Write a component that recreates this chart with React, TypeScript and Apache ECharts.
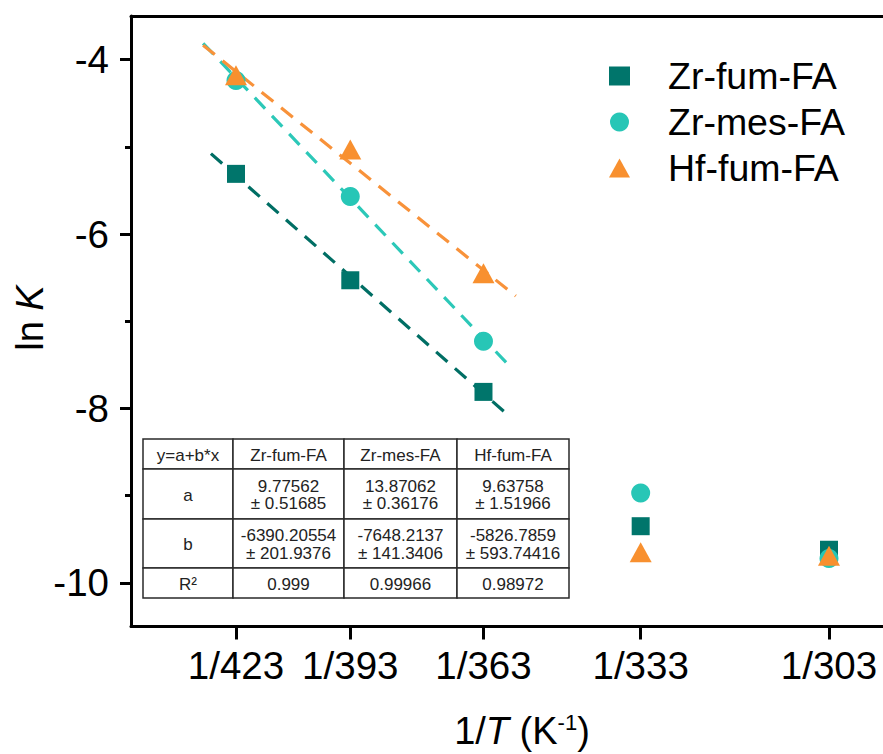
import { useEffect, useRef } from "react";
import * as echarts from "echarts";

// Measurement temperatures (K); the x axis is 1/T
const temperatures = [423, 393, 363, 333, 303];

// ln K values per material, in the same order as temperatures
const zrFum = [-5.31, -6.53, -7.81, -9.35, -9.62];
const zrMes = [-4.24, -5.57, -7.23, -8.97, -9.72];
const hfFum = [-4.18, -5.03, -6.45, -9.65, -9.69];

const seriesNames = ["Zr-fum-FA", "Zr-mes-FA", "Hf-fum-FA"];

// Linear fit ln K = a + b * (1/T)
const fitA = [9.77562, 13.87062, 9.63758];
const fitAErr = [0.51685, 0.36176, 1.51966];
const fitB = [-6390.20554, -7648.2137, -5826.7859];
const fitBErr = [201.9376, 141.3406, 593.74416];
const fitR2 = ["0.999", "0.99966", "0.98972"];

// Temperature span (K) covered by each dashed fit line
const fitTFrom = [430.2, 432.5, 432.5];
const fitTTo = [358.0, 358.0, 356.4];

const yTicks = [-10, -8, -6, -4];
const yMinorTicks = [-9, -7, -5];

const FONT = "'Liberation Sans', Arial, Helvetica, sans-serif";
const markerColors = ["#00756B", "#27C6B6", "#F8902F"];
const lineColors = ["#006E64", "#2CC8B8", "#F8923A"];
const symbols = ["rect", "circle", "triangle"];
const symbolSizes: any[] = [18, 19, [22, 20]];

function buildTable() {
  const colX = [143, 233, 344, 457, 569];
  const rowY = [439, 469, 519, 568, 598];
  const rows: string[][] = [
    ["y=a+b*x", ...seriesNames],
    ["a", ...fitA.map((a, i) => `${a}\n± ${fitAErr[i]}`)],
    ["b", ...fitB.map((b, i) => `${b}\n± ${fitBErr[i]}`)],
    ["R²", ...fitR2],
  ];
  const children: any[] = [];
  rows.forEach((row, r) => {
    row.forEach((cell, c) => {
      const x = colX[c];
      const y = rowY[r];
      const w = colX[c + 1] - x;
      const h = rowY[r + 1] - y;
      children.push({
        type: "rect",
        shape: { x, y, width: w, height: h },
        style: { fill: "#fff", stroke: "#2a2a2a", lineWidth: 1.5 },
        z: 10,
      });
      children.push({
        type: "text",
        x: x + w / 2,
        y: y + h / 2 + 1,
        style: {
          text: cell,
          align: "center",
          verticalAlign: "middle",
          fontSize: 17,
          lineHeight: 17.5,
          fontFamily: FONT,
          fill: "#222",
        },
        z: 11,
      });
    });
  });
  return { type: "group", children };
}

export default function App() {
  const ref = useRef<HTMLDivElement>(null);

  useEffect(() => {
    if (!ref.current) return;
    const chart = echarts.init(ref.current, null, { renderer: "svg" });
    const xMin = 0.0021983;
    const xMax = 0.0033856;
    const invT = temperatures.map((t) => 1 / t);
    const values = [zrFum, zrMes, hfFum];

    const scatterSeries = values.map((vals, i) => ({
      name: seriesNames[i],
      type: "scatter",
      data: vals.map((v, k) => [invT[k], v]),
      symbol: symbols[i],
      symbolSize: symbolSizes[i],
      itemStyle: { color: markerColors[i], opacity: 1 },
      z: 5 + i,
    }));

    const fitSeries = fitA.map((a, i) => {
      const x0 = 1 / fitTFrom[i];
      const x1 = 1 / fitTTo[i];
      return {
        name: `${seriesNames[i]} fit`,
        type: "line",
        data: [
          [x0, a + fitB[i] * x0],
          [x1, a + fitB[i] * x1],
        ],
        showSymbol: false,
        silent: true,
        lineStyle: { color: lineColors[i], width: 3.2, type: [15, 10] },
        z: 2,
      };
    });

    const axisLine = { show: true, lineStyle: { color: "#000", width: 3 } };

    // y-axis title, rotated to read bottom-to-top
    const yTitle = {
      type: "text",
      x: 30,
      y: 318,
      rotation: Math.PI / 2,
      style: {
        text: "ln {it|K}",
        align: "center",
        verticalAlign: "middle",
        fontSize: 38,
        fontFamily: FONT,
        fill: "#000",
        rich: {
          it: { fontStyle: "italic", fontSize: 38, fontFamily: FONT, fill: "#000" },
        },
      },
    };

    chart.setOption({
      animation: false,
      backgroundColor: "#fff",
      textStyle: { fontFamily: FONT },
      grid: { left: 131, right: 0, top: 16, bottom: 127.5, containLabel: false, outerBoundsMode: "none" },
      legend: {
        orient: "vertical",
        left: 604,
        top: 52,
        itemWidth: 21,
        itemHeight: 19,
        itemGap: 8,
        data: seriesNames.map((n, i) => ({ name: n, icon: symbols[i] })),
        textStyle: { fontSize: 37.5, color: "#000", fontFamily: FONT, padding: [0, 0, 0, 33] },
      },
      xAxis: [
        {
          type: "value",
          min: xMin,
          max: xMax,
          position: "bottom",
          axisLine,
          axisTick: { show: true, customValues: invT, length: 13, lineStyle: { width: 3, color: "#000" } },
          axisLabel: {
            customValues: invT,
            formatter: (v: number) => `1/${Math.round(1 / v)}`,
            fontSize: 38.5,
            color: "#000",
            fontFamily: FONT,
            margin: 19,
          },
          splitLine: { show: false },
          name: "1/{it|T} (K{sup|-1})",
          nameLocation: "middle",
          nameGap: 85,
          nameTextStyle: {
            fontSize: 38,
            color: "#000",
            fontFamily: FONT,
            padding: [0, 0, 0, 30],
            rich: {
              it: { fontStyle: "italic", fontSize: 38, fontFamily: FONT, color: "#000" },
              sup: { fontSize: 22, verticalAlign: "top", fontFamily: FONT, color: "#000" },
            },
          },
        },
        {
          type: "value",
          min: xMin,
          max: xMax,
          position: "top",
          axisLine,
          axisTick: { show: false },
          axisLabel: { show: false },
          splitLine: { show: false },
        },
      ],
      yAxis: [
        {
          type: "value",
          min: -10.5,
          max: -3.5,
          position: "left",
          axisLine,
          axisTick: { show: true, customValues: yTicks, length: 11, lineStyle: { width: 3, color: "#000" } },
          axisLabel: {
            customValues: yTicks,
            fontSize: 38.5,
            color: "#000",
            fontFamily: FONT,
            margin: 22,
          },
          splitLine: { show: false },
        },
        {
          type: "value",
          min: -10.5,
          max: -3.5,
          position: "left",
          axisLine: { show: false },
          axisTick: { show: true, customValues: yMinorTicks, length: 6, lineStyle: { width: 3, color: "#000" } },
          axisLabel: { show: false },
          splitLine: { show: false },
        },
      ],
      graphic: [yTitle, buildTable()],
      series: [...fitSeries, ...scatterSeries],
    });
    return () => chart.dispose();
  }, []);

  return (
    <div
      ref={ref}
      style={{ position: "absolute", left: 0, top: 0, width: 883, height: 754, background: "#fff" }}
    />
  );
}
